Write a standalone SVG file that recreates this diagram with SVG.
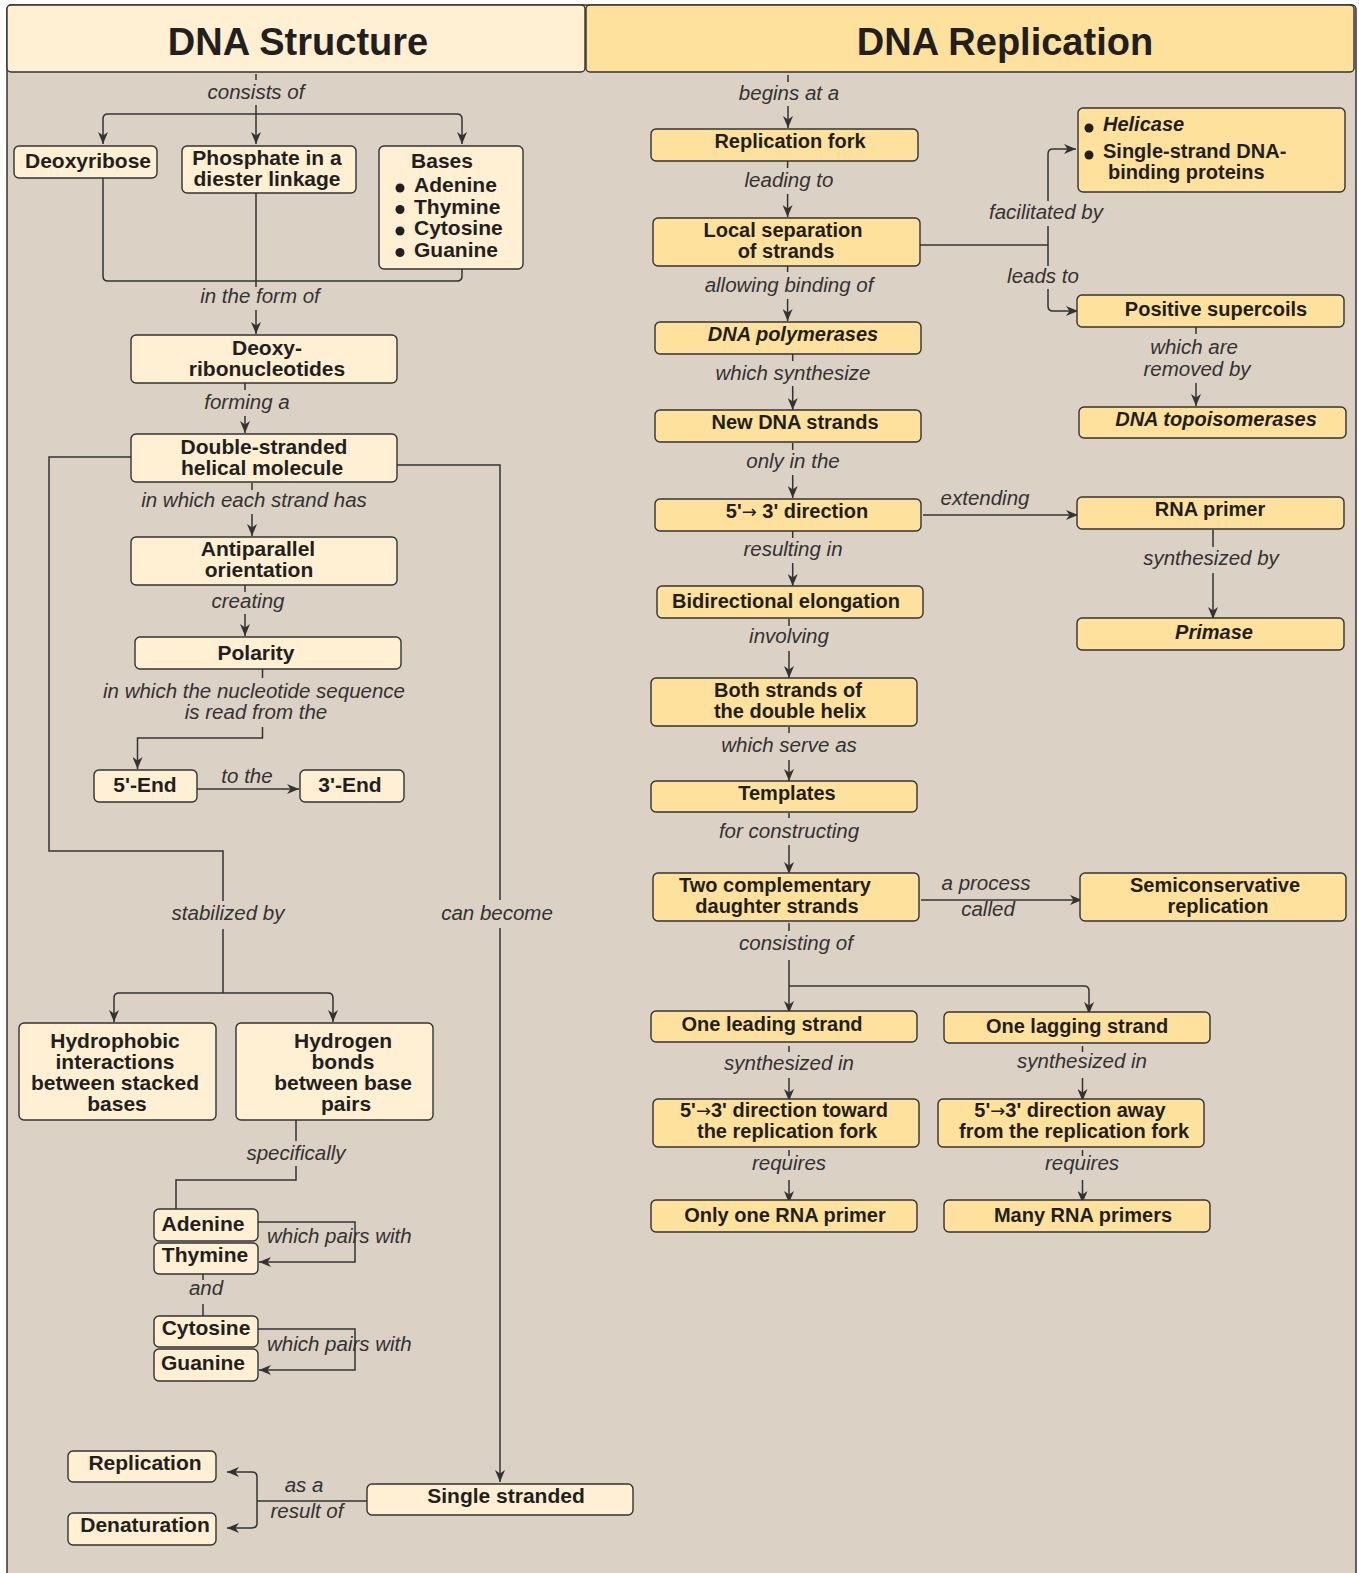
<svg xmlns="http://www.w3.org/2000/svg" width="1359" height="1573" viewBox="0 0 1359 1573">
<style>
.bg{fill:#DCD1C5;stroke:#333;stroke-width:1.5}
.hl{fill:#FFEFD3;stroke:#333;stroke-width:1.4}
.hr{fill:#FFE19E;stroke:#333;stroke-width:1.4}
.bl{fill:#FFEFD3;stroke:#333;stroke-width:1.4}
.br{fill:#FFE19E;stroke:#333;stroke-width:1.4}
text{font-family:"Liberation Sans",Arial,sans-serif;fill:#231F20}
.t{font-size:38px;font-weight:bold;text-anchor:middle}
.n{font-size:21px;font-weight:bold;text-anchor:middle}
.nr{font-size:20px;font-weight:bold;text-anchor:middle}
.ni{font-size:20px;font-weight:bold;font-style:italic;text-anchor:middle}
.nl{font-size:20px;font-weight:bold}
.lb{font-size:20.5px;font-style:italic;text-anchor:middle;fill:#333}
.lbs{font-size:20.5px;font-style:italic;fill:#333}
.arr{font-family:"DejaVu Sans",sans-serif;font-weight:normal;font-size:18px}
.c path{fill:none;stroke:#333;stroke-width:1.5}
.ar{marker-end:url(#ah)}
.dot{fill:#231F20}
</style>
<defs>
<marker id="ah" viewBox="0 0 12 10" refX="12" refY="5" markerWidth="12" markerHeight="10" markerUnits="userSpaceOnUse" orient="auto">
<path d="M0,0 L12,5 L0,10 L3.5,5 z" fill="#333"/>
</marker>
</defs>
<rect class="bg" x="7" y="5" width="1349" height="1600" rx="4"/>
<g id="header-structure"><rect class="hl" x="7" y="5" width="578" height="67" rx="4"/><text class="t" x="298" y="55">DNA Structure</text></g>
<g id="header-replication"><rect class="hr" x="586" y="5" width="768" height="67" rx="4"/><text class="t" x="1005" y="55">DNA Replication</text></g>

<g class="c" id="connectors">
<path d="M256,74 L256,80"/>
<path class="ar" d="M256,105 L256,144"/>
<path class="ar" d="M256,114 L108,114 Q103,114 103,119 L103,144"/>
<path class="ar" d="M256,114 L457,114 Q462,114 462,119 L462,144"/>
<path d="M103,178 L103,276 Q103,281 108,281 L457,281 Q462,281 462,276 L462,269"/>
<path d="M256,193 L256,287"/>
<path class="ar" d="M256,310 L256,334"/>
<path d="M245,383 L245,390"/>
<path class="ar" d="M245,416 L245,433"/>
<path d="M252,483 L252,490"/>
<path class="ar" d="M252,514 L252,536"/>
<path d="M245,585 L245,592"/>
<path class="ar" d="M245,614 L245,636"/>
<path d="M262.5,669 L262.5,678"/>
<path class="ar" d="M262.5,727 L262.5,738 L137.5,738 L137.5,769"/>
<path class="ar" d="M197,789 L299,789"/>
<path d="M131,457 L49,457 L49,851 L223,851 L223,901"/>
<path d="M223,929 L223,993"/>
<path class="ar" d="M223,993 L119,993 Q114,993 114,998 L114,1022"/>
<path class="ar" d="M223,993 L328,993 Q333,993 333,998 L333,1022"/>
<path d="M397,465 L500,465 L500,900"/>
<path class="ar" d="M500,928 L500,1482"/>
<path d="M296,1120 L296,1141"/>
<path d="M296,1166 L296,1180 L176,1180 L176,1209"/>
<path class="ar" d="M258,1222 L355,1222 L355,1262 L259,1262"/>
<path d="M203,1274 L203,1280"/>
<path d="M203,1304 L203,1316"/>
<path class="ar" d="M258,1329 L355,1329 L355,1370 L259,1370"/>
<path d="M367,1501 L257,1501"/>
<path class="ar" d="M257,1501 L257,1477 Q257,1472 252,1472 L227,1472"/>
<path class="ar" d="M257,1501 L257,1523 Q257,1528 252,1528 L227,1528"/>

<path d="M788,75 L788,82"/>
<path class="ar" d="M788,106 L788,128"/>
<path d="M787.6,161 L787.6,168"/>
<path class="ar" d="M787.6,194 L787.6,217"/>
<path d="M920,245 L1048,245"/>
<path d="M1048,245 L1048,226"/>
<path class="ar" d="M1048,201 L1048,154 Q1048,149 1053,149 L1076,149"/>
<path d="M1048,245 L1048,266"/>
<path class="ar" d="M1048,289 L1048,306 Q1048,311 1053,311 L1078,311"/>
<path d="M787.6,266 L787.6,272"/>
<path class="ar" d="M787.6,299 L787.6,321"/>
<path d="M792.7,354 L792.7,361"/>
<path class="ar" d="M792.7,386 L792.7,410"/>
<path d="M1196,327 L1196,334"/>
<path class="ar" d="M1196,383 L1196,406"/>
<path d="M792.7,443 L792.7,450"/>
<path class="ar" d="M792.7,475 L792.7,498"/>
<path class="ar" d="M923,515 L1078,515"/>
<path d="M1213,530 L1213,547"/>
<path class="ar" d="M1213,573 L1213,619"/>
<path d="M792.7,531 L792.7,538"/>
<path class="ar" d="M792.7,563 L792.7,586"/>
<path d="M789,619 L789,626"/>
<path class="ar" d="M789,651 L789,678"/>
<path d="M789,727 L789,733"/>
<path class="ar" d="M789,760 L789,781"/>
<path d="M789,813 L789,818"/>
<path class="ar" d="M789,845 L789,874"/>
<path class="ar" d="M921,900 L1082,900"/>
<path d="M789,923 L789,931"/>
<path d="M789,960 L789,986"/>
<path class="ar" d="M789,986 L789,1013"/>
<path class="ar" d="M789,986 L1084,986 Q1089,986 1089,991 L1089,1014"/>
<path d="M789,1046 L789,1052"/>
<path class="ar" d="M789,1078 L789,1101"/>
<path d="M1082.5,1046 L1082.5,1052"/>
<path class="ar" d="M1082.5,1078 L1082.5,1101"/>
<path d="M789,1150 L789,1156"/>
<path class="ar" d="M789,1180 L789,1203"/>
<path d="M1082.5,1150 L1082.5,1156"/>
<path class="ar" d="M1082.5,1180 L1082.5,1203"/>
</g>

<g id="labels">
<text class="lb" x="256" y="99">consists of</text>
<text class="lb" x="260" y="303">in the form of</text>
<text class="lb" x="247" y="409">forming a</text>
<text class="lb" x="254" y="507">in which each strand has</text>
<text class="lb" x="248" y="608">creating</text>
<text class="lb" x="254" y="698">in which the nucleotide sequence</text>
<text class="lb" x="256" y="719">is read from the</text>
<text class="lb" x="247" y="783">to the</text>
<text class="lb" x="228" y="920">stabilized by</text>
<text class="lb" x="497" y="920">can become</text>
<text class="lb" x="296" y="1160">specifically</text>
<text class="lbs" x="267" y="1243">which pairs with</text>
<text class="lb" x="206" y="1295">and</text>
<text class="lbs" x="267" y="1351">which pairs with</text>
<text class="lb" x="304" y="1492">as a</text>
<text class="lb" x="307" y="1518">result of</text>

<text class="lb" x="789" y="100">begins at a</text>
<text class="lb" x="789" y="187">leading to</text>
<text class="lb" x="1046" y="219">facilitated by</text>
<text class="lb" x="1043" y="283">leads to</text>
<text class="lb" x="789" y="292">allowing binding of</text>
<text class="lb" x="1194" y="354">which are</text>
<text class="lb" x="1197" y="376">removed by</text>
<text class="lb" x="793" y="380">which synthesize</text>
<text class="lb" x="793" y="468">only in the</text>
<text class="lb" x="985" y="505">extending</text>
<text class="lb" x="1211" y="565">synthesized by</text>
<text class="lb" x="793" y="556">resulting in</text>
<text class="lb" x="789" y="643">involving</text>
<text class="lb" x="789" y="752">which serve as</text>
<text class="lb" x="789" y="838">for constructing</text>
<text class="lb" x="986" y="890">a process</text>
<text class="lb" x="988" y="916">called</text>
<text class="lb" x="796" y="950">consisting of</text>
<text class="lb" x="789" y="1070">synthesized in</text>
<text class="lb" x="1082" y="1068">synthesized in</text>
<text class="lb" x="789" y="1170">requires</text>
<text class="lb" x="1082" y="1170">requires</text>
</g>

<g id="n-deoxyribose"><rect class="bl" x="14" y="146" width="143" height="32" rx="5"/><text class="n" x="88" y="168">Deoxyribose</text></g>
<g id="n-phosphate"><rect class="bl" x="182" y="146" width="174" height="47" rx="5"/><text class="n" x="267" y="165">Phosphate in a</text><text class="n" x="267" y="186">diester linkage</text></g>
<g id="n-bases"><rect class="bl" x="379" y="146" width="144" height="123" rx="5"/><text class="n" x="442" y="168">Bases</text>
<circle class="dot" cx="400" cy="188" r="4.5"/><text class="nl" x="414" y="192" style="font-size:21px">Adenine</text>
<circle class="dot" cx="400" cy="209.5" r="4.5"/><text class="nl" x="414" y="213.5" style="font-size:21px">Thymine</text>
<circle class="dot" cx="400" cy="231" r="4.5"/><text class="nl" x="414" y="235" style="font-size:21px">Cytosine</text>
<circle class="dot" cx="400" cy="252.5" r="4.5"/><text class="nl" x="414" y="256.5" style="font-size:21px">Guanine</text></g>
<g id="n-deoxyribonucleotides"><rect class="bl" x="131" y="335" width="266" height="48" rx="5"/><text class="n" x="267" y="355">Deoxy-</text><text class="n" x="267" y="376">ribonucleotides</text></g>
<g id="n-double"><rect class="bl" x="131" y="434" width="266" height="48" rx="5"/><text class="n" x="264" y="454">Double-stranded</text><text class="n" x="262" y="475">helical molecule</text></g>
<g id="n-antiparallel"><rect class="bl" x="131" y="537" width="266" height="48" rx="5"/><text class="n" x="258" y="556">Antiparallel</text><text class="n" x="259" y="577">orientation</text></g>
<g id="n-polarity"><rect class="bl" x="135" y="637" width="266" height="32" rx="5"/><text class="n" x="256" y="660">Polarity</text></g>
<g id="n-5end"><rect class="bl" x="94" y="770" width="103" height="32" rx="5"/><text class="n" x="145" y="792">5'-End</text></g>
<g id="n-3end"><rect class="bl" x="300" y="770" width="104" height="32" rx="5"/><text class="n" x="350" y="792">3'-End</text></g>
<g id="n-hydrophobic"><rect class="bl" x="19" y="1023" width="197" height="97" rx="5"/><text class="n" x="115" y="1048">Hydrophobic</text><text class="n" x="115" y="1069">interactions</text><text class="n" x="115" y="1090">between stacked</text><text class="n" x="117" y="1111">bases</text></g>
<g id="n-hydrogen"><rect class="bl" x="236" y="1023" width="197" height="97" rx="5"/><text class="n" x="343" y="1048">Hydrogen</text><text class="n" x="343" y="1069">bonds</text><text class="n" x="343" y="1090">between base</text><text class="n" x="346" y="1111">pairs</text></g>
<g id="n-adenine"><rect class="bl" x="154" y="1209" width="104" height="32" rx="5"/><text class="n" x="203" y="1231">Adenine</text></g>
<g id="n-thymine"><rect class="bl" x="154" y="1243" width="104" height="31" rx="5"/><text class="n" x="205" y="1262">Thymine</text></g>
<g id="n-cytosine"><rect class="bl" x="154" y="1316" width="104" height="31" rx="5"/><text class="n" x="206" y="1335">Cytosine</text></g>
<g id="n-guanine"><rect class="bl" x="154" y="1349" width="104" height="32" rx="5"/><text class="n" x="203" y="1370">Guanine</text></g>
<g id="n-replication"><rect class="bl" x="68" y="1451" width="148" height="31" rx="5"/><text class="n" x="145" y="1470">Replication</text></g>
<g id="n-denaturation"><rect class="bl" x="68" y="1513" width="148" height="32" rx="5"/><text class="n" x="145" y="1532">Denaturation</text></g>
<g id="n-single"><rect class="bl" x="367" y="1484" width="266" height="31" rx="5"/><text class="n" x="506" y="1503">Single stranded</text></g>

<g id="n-fork"><rect class="br" x="651" y="129" width="267" height="32" rx="5"/><text class="nr" x="790" y="148">Replication fork</text></g>
<g id="n-local"><rect class="br" x="653" y="218" width="267" height="48" rx="5"/><text class="nr" x="783" y="237">Local separation</text><text class="nr" x="786" y="258">of strands</text></g>
<g id="n-helicase"><rect class="br" x="1078" y="108" width="267" height="84" rx="5"/>
<circle class="dot" cx="1089" cy="128" r="4.5"/><text class="nl" x="1103" y="131" style="font-style:italic">Helicase</text>
<circle class="dot" cx="1089" cy="155" r="4.5"/><text class="nl" x="1103" y="158">Single-strand DNA-</text><text class="nl" x="1108" y="179">binding proteins</text></g>
<g id="n-supercoils"><rect class="br" x="1077" y="295" width="267" height="32" rx="5"/><text class="nr" x="1216" y="316">Positive supercoils</text></g>
<g id="n-polymerases"><rect class="br" x="655" y="322" width="266" height="32" rx="5"/><text class="ni" x="793" y="341">DNA polymerases</text></g>
<g id="n-topo"><rect class="br" x="1079" y="407" width="267" height="31" rx="5"/><text class="ni" x="1216" y="426">DNA topoisomerases</text></g>
<g id="n-newdna"><rect class="br" x="655" y="410" width="266" height="32" rx="5"/><text class="nr" x="795" y="429">New DNA strands</text></g>
<g id="n-direction"><rect class="br" x="655" y="499" width="266" height="32" rx="5"/><text class="nr" x="797" y="518">5'<tspan class="arr">→</tspan> 3' direction</text></g>
<g id="n-rnaprimer"><rect class="br" x="1077" y="497" width="267" height="32" rx="5"/><text class="nr" x="1210" y="516">RNA primer</text></g>
<g id="n-primase"><rect class="br" x="1077" y="618" width="267" height="32" rx="5"/><text class="ni" x="1214" y="639">Primase</text></g>
<g id="n-bidirectional"><rect class="br" x="657" y="586" width="266" height="32" rx="5"/><text class="nr" x="786" y="608">Bidirectional elongation</text></g>
<g id="n-both"><rect class="br" x="651" y="678" width="266" height="48" rx="5"/><text class="nr" x="788" y="697">Both strands of</text><text class="nr" x="790" y="718">the double helix</text></g>
<g id="n-templates"><rect class="br" x="651" y="781" width="266" height="31" rx="5"/><text class="nr" x="787" y="800">Templates</text></g>
<g id="n-two"><rect class="br" x="653" y="873" width="266" height="48" rx="5"/><text class="nr" x="775" y="892">Two complementary</text><text class="nr" x="777" y="913">daughter strands</text></g>
<g id="n-semi"><rect class="br" x="1080" y="873" width="266" height="48" rx="5"/><text class="nr" x="1215" y="892">Semiconservative</text><text class="nr" x="1218" y="913">replication</text></g>
<g id="n-leading"><rect class="br" x="651" y="1011" width="266" height="31" rx="5"/><text class="nr" x="772" y="1031">One leading strand</text></g>
<g id="n-lagging"><rect class="br" x="944" y="1012" width="266" height="31" rx="5"/><text class="nr" x="1077" y="1033">One lagging strand</text></g>
<g id="n-toward"><rect class="br" x="653" y="1099" width="266" height="48" rx="5"/><text class="nr" x="784" y="1117">5'<tspan class="arr">→</tspan>3' direction toward</text><text class="nr" x="787" y="1138">the replication fork</text></g>
<g id="n-away"><rect class="br" x="938" y="1099" width="266" height="48" rx="5"/><text class="nr" x="1070" y="1117">5'<tspan class="arr">→</tspan>3' direction away</text><text class="nr" x="1074" y="1138">from the replication fork</text></g>
<g id="n-onlyone"><rect class="br" x="651" y="1200" width="266" height="32" rx="5"/><text class="nr" x="785" y="1222">Only one RNA primer</text></g>
<g id="n-many"><rect class="br" x="944" y="1200" width="266" height="32" rx="5"/><text class="nr" x="1083" y="1222">Many RNA primers</text></g>
</svg>
